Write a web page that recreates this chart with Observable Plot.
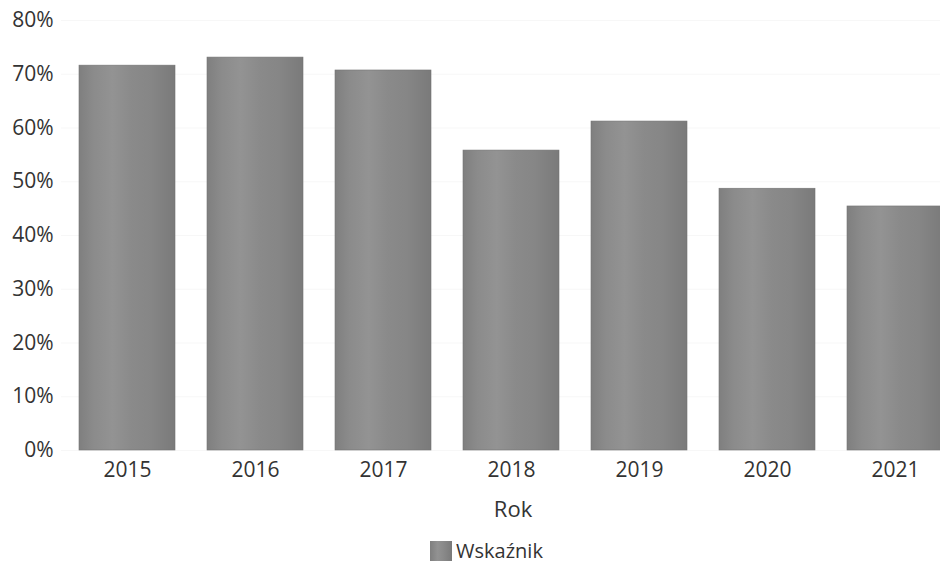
<!DOCTYPE html>
<html>
<head>
<meta charset="utf-8">
<script src="https://cdn.jsdelivr.net/npm/d3@7"></script>
<script src="https://cdn.jsdelivr.net/npm/@observablehq/plot@0.6"></script>
<style>
  html, body { margin: 0; padding: 0; background: #fff; overflow: hidden; }
  body { width: 940px; height: 567px; font-family: "Open Sans", sans-serif; color: #333; }
  #legend { display: flex; justify-content: center; align-items: center; gap: 4px; font-size: 20px; line-height: 22px; margin-top: 10px; padding-left: 33px; }
  #legend .sw { width: 22px; height: 20px; background: linear-gradient(90deg, #7f7f7f, #929292 35%, #8a8a8a 60%, #7a7a7a); }
</style>
</head>
<body>
<div id="chart"></div>
<div id="legend"><span class="sw"></span><span id="legend-label"></span></div>
<script>
const years = ["2015", "2016", "2017", "2018", "2019", "2020", "2021"];
const values = [0.716, 0.731, 0.707, 0.558, 0.612, 0.487, 0.454];
const yTicks = [0, 0.1, 0.2, 0.3, 0.4, 0.5, 0.6, 0.7, 0.8];
const seriesName = "Wskaźnik";
const xLabel = "Rok";

const data = years.map((year, i) => ({ year, value: values[i] }));

const defs = () => {
  const d = d3.create("svg:defs");
  const g = d.append("linearGradient").attr("id", "barGrad").attr("x1", 0).attr("x2", 1).attr("y1", 0).attr("y2", 0);
  [[0, "#7f7f7f"], [0.15, "#8b8b8b"], [0.35, "#939393"], [0.55, "#8a8a8a"], [0.75, "#868686"], [1, "#7a7a7a"]]
    .forEach(([o, c]) => g.append("stop").attr("offset", o).attr("stop-color", c));
  return d.node();
};

const chart = Plot.plot({
  width: 940,
  height: 530,
  marginTop: 20,
  marginBottom: 80,
  marginLeft: 61,
  marginRight: 0,
  style: { fontFamily: "Open Sans, sans-serif", fontSize: "21px", color: "#333", background: "#fff" },
  x: { domain: years, range: [61, 960], paddingInner: 0.25, paddingOuter: 0.125, label: null },
  y: { domain: [0, 0.8], label: null },
  marks: [
    defs,
    Plot.gridY(yTicks, { stroke: "#f7f7f7", strokeOpacity: 1 }),
    Plot.barY(data, { x: "year", y: "value", fill: "url(#barGrad)", stroke: "#747474", strokeWidth: 0.6 }),
    Plot.axisY({ ticks: yTicks, tickSize: 0, tickPadding: 8, tickFormat: d3.format(".0%"), label: null, fill: "#333", fontSize: 21 }),
    Plot.axisX({ tickSize: 0, tickPadding: 12, label: null, fill: "#333", fontSize: 21 }),
    Plot.text([xLabel], { frameAnchor: "bottom", lineAnchor: "middle", text: d => d, dx: 12, dy: 59, fontSize: 22, fill: "#333" })
  ]
});
document.getElementById("chart").appendChild(chart);
document.getElementById("legend-label").textContent = seriesName;
</script>
</body>
</html>
